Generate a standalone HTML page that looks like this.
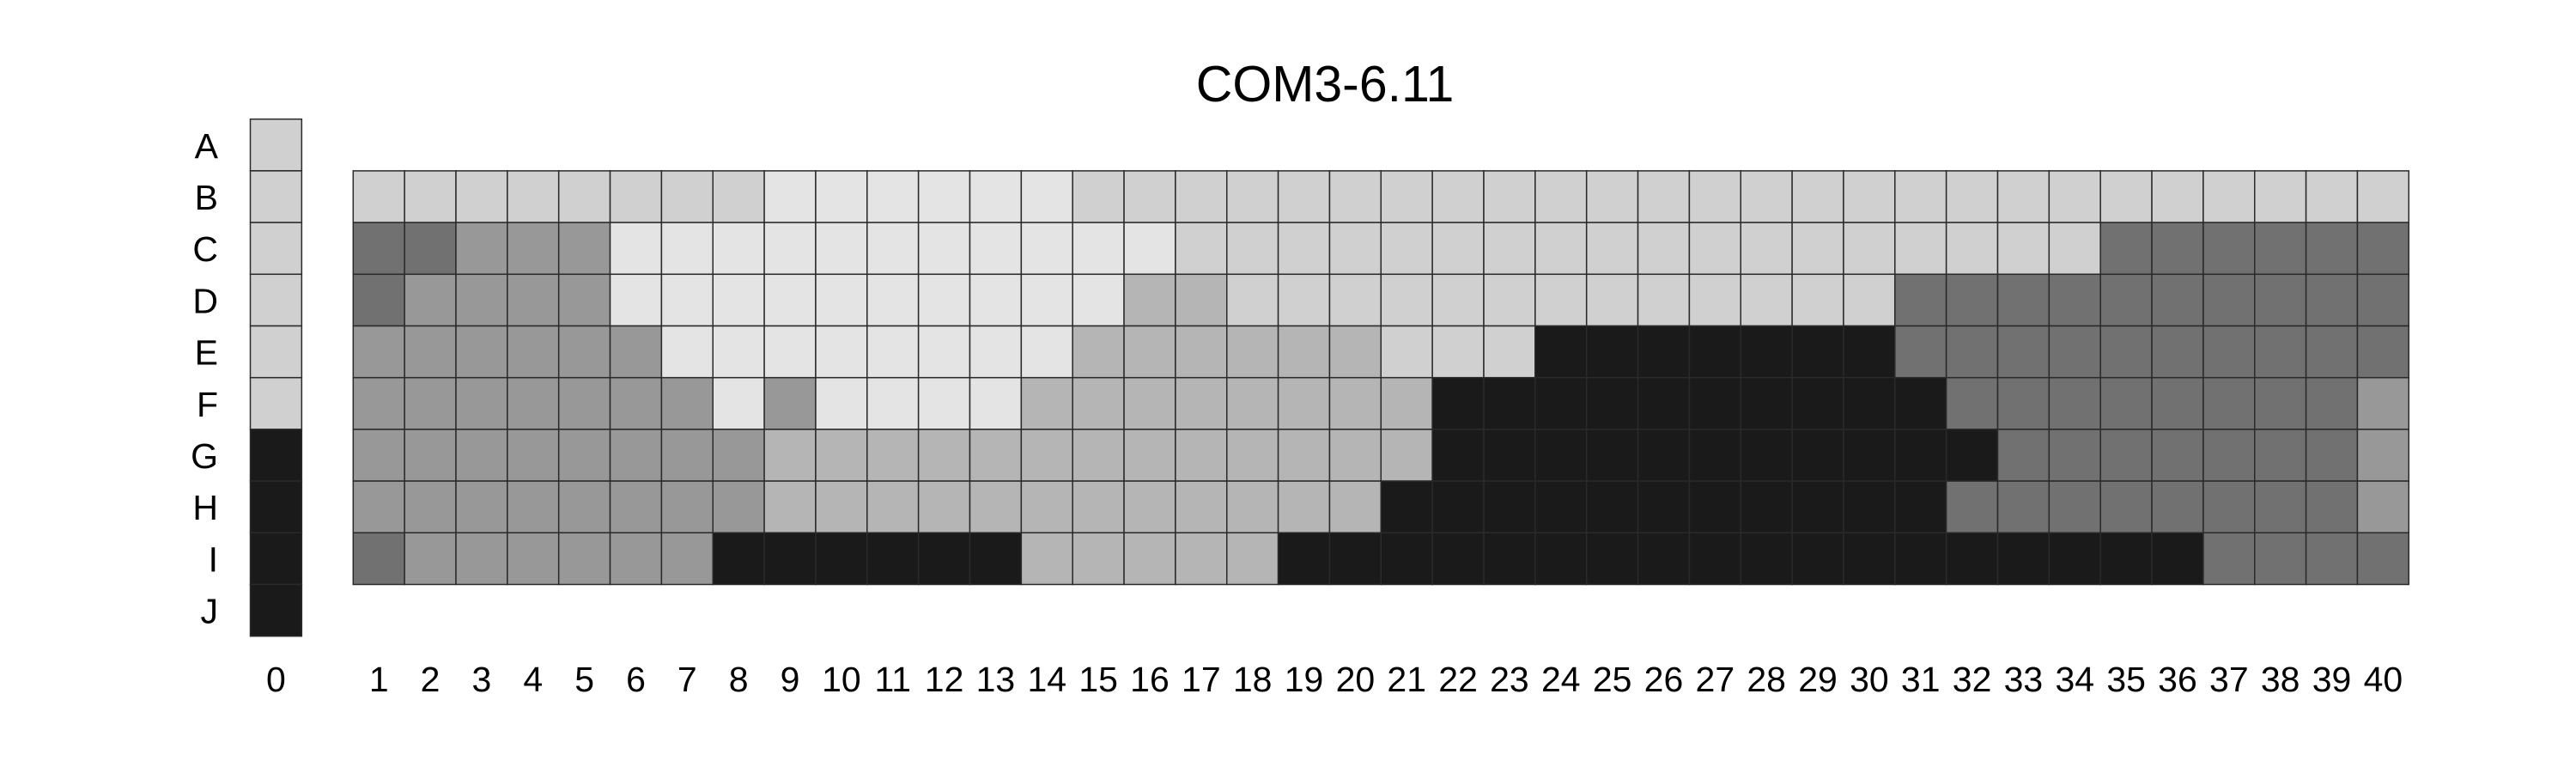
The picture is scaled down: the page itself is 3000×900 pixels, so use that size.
<!DOCTYPE html>
<html><head><meta charset="utf-8"><style>
html,body{margin:0;padding:0;background:#fff;}
svg{display:block;font-family:"Liberation Sans",Arial,sans-serif;}
</style></head><body>
<svg id="chart" width="3000" height="900" viewBox="0 0 3000 900" xmlns="http://www.w3.org/2000/svg">
<rect width="3000" height="900" fill="#fff"/>
<text x="1543" y="118" font-size="59" text-anchor="middle">COM3-6.11</text>
<g id="cells"></g>
<g id="labels"></g>
</svg>
<script>
const rowLabels = ["A","B","C","D","E","F","G","H","I","J"];
const colLabels = ["0","1","2","3","4","5","6","7","8","9","10","11","12","13","14","15","16","17","18","19","20","21","22","23","24","25","26","27","28","29","30","31","32","33","34","35","36","37","38","39","40"];
const palette = ["#e4e4e4","#d0d0d0","#b5b5b5","#989898","#717171","#1a1a1a"];
const col0Values = [1,1,1,1,1,1,5,5,5,5];
const rowB = [1,1,1,1,1,1,1,1,0,0,0,0,0,0,1,1,1,1,1,1,1,1,1,1,1,1,1,1,1,1,1,1,1,1,1,1,1,1,1,1];
const rowC = [4,4,3,3,3,0,0,0,0,0,0,0,0,0,0,0,1,1,1,1,1,1,1,1,1,1,1,1,1,1,1,1,1,1,4,4,4,4,4,4];
const rowD = [4,3,3,3,3,0,0,0,0,0,0,0,0,0,0,2,2,1,1,1,1,1,1,1,1,1,1,1,1,1,4,4,4,4,4,4,4,4,4,4];
const rowE = [3,3,3,3,3,3,0,0,0,0,0,0,0,0,2,2,2,2,2,2,1,1,1,5,5,5,5,5,5,5,4,4,4,4,4,4,4,4,4,4];
const rowF = [3,3,3,3,3,3,3,0,3,0,0,0,0,2,2,2,2,2,2,2,2,5,5,5,5,5,5,5,5,5,5,4,4,4,4,4,4,4,4,3];
const rowG = [3,3,3,3,3,3,3,3,2,2,2,2,2,2,2,2,2,2,2,2,2,5,5,5,5,5,5,5,5,5,5,5,4,4,4,4,4,4,4,3];
const rowH = [3,3,3,3,3,3,3,3,2,2,2,2,2,2,2,2,2,2,2,2,5,5,5,5,5,5,5,5,5,5,5,4,4,4,4,4,4,4,4,3];
const rowI = [4,3,3,3,3,3,3,5,5,5,5,5,5,2,2,2,2,2,5,5,5,5,5,5,5,5,5,5,5,5,5,5,5,5,5,5,4,4,4,4];
const mainRows = [rowB,rowC,rowD,rowE,rowF,rowG,rowH,rowI];

const NS="http://www.w3.org/2000/svg";
const cw=59.85, ch=60.2;
const col0X=291.5, col0Y=138.7;
const mainX=411.3, mainY=198.9;
function xMain(i){return mainX+i*cw;}
function yRow(r){return col0Y+r*ch;}
const cells=document.getElementById('cells');
const labels=document.getElementById('labels');
function rect(x,y,v){
  const r=document.createElementNS(NS,'rect');
  r.setAttribute('x',x);r.setAttribute('y',y);
  r.setAttribute('width',cw);r.setAttribute('height',ch);
  r.setAttribute('fill',palette[v]);
  r.setAttribute('stroke','#2a2a2a');r.setAttribute('stroke-width','1.5');
  cells.appendChild(r);return r;
}
col0Values.forEach((v,r)=>{
  const el=rect(col0X,yRow(r),v);
  
  
});
mainRows.forEach((row,ri)=>{
  row.forEach((v,ci)=>{
    const el=rect(xMain(ci),yRow(ri+1),v);
    
    
  });
});
function text(x,y,s,anchor){
  const t=document.createElementNS(NS,'text');
  t.setAttribute('x',x);t.setAttribute('y',y);
  t.setAttribute('font-size','41');t.setAttribute('text-anchor',anchor);
  t.textContent=s;labels.appendChild(t);return t;
}
rowLabels.forEach((s,r)=>{
  const t=text(254,yRow(r)+ch/2+15,s,'end');
  
  
});
colLabels.forEach((s,i)=>{
  const x = i===0 ? col0X+cw/2 : xMain(i-1)+cw/2;
  const t=text(x,805,s,'middle');
  
  
});
</script>
</body></html>
